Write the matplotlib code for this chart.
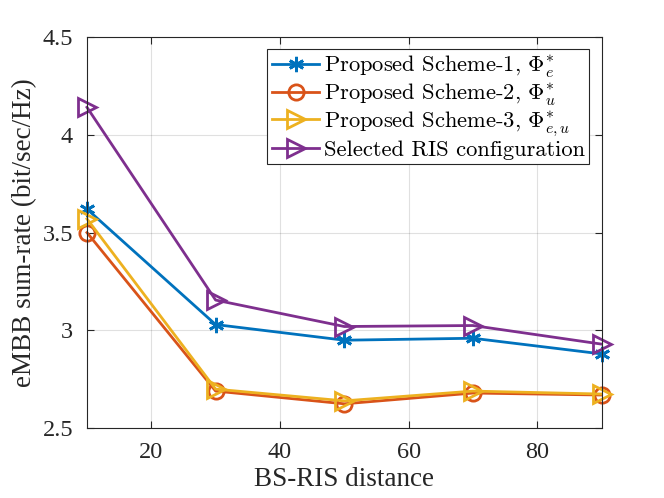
import numpy as np
import matplotlib
matplotlib.use('Agg')
import matplotlib.pyplot as plt

plt.rcParams['font.family'] = ['Liberation Serif', 'DejaVu Serif']
plt.rcParams['mathtext.fontset'] = 'cm'

distance = [10, 30, 50, 70, 90]
scheme1 = [3.62, 3.03, 2.95, 2.96, 2.88]
scheme2 = [3.50, 2.69, 2.625, 2.68, 2.67]
scheme3 = [3.57, 2.70, 2.64, 2.69, 2.675]
selected = [4.14, 3.155, 3.02, 3.025, 2.93]

labels = [r'Proposed Scheme-1, $\Phi_e^{*}$',
          r'Proposed Scheme-2, $\Phi_u^{*}$',
          r'Proposed Scheme-3, $\Phi_{e,u}^{*}$',
          'Selected RIS configuration']

blue = '#0072BD'
orange = '#D95319'
yellow = '#EDB120'
purple = '#7E2F8E'

fig = plt.figure(figsize=(6.64, 4.98), dpi=100)
ax = fig.add_axes([0.131, 0.14, 0.775, 0.786])

ax.plot(distance, scheme1, color=blue, lw=2, marker=(6, 2, 0), ms=11, mew=2,
        label=labels[0], clip_on=False)
ax.plot(distance, scheme2, color=orange, lw=2, marker='o', ms=11, mew=2, mfc='none',
        label=labels[1], clip_on=False)
ax.plot(distance, scheme3, color=yellow, lw=2, marker='>', ms=13, mew=2, mfc='none',
        label=labels[2], clip_on=False)
ax.plot(distance, selected, color=purple, lw=2, marker='>', ms=13, mew=2, mfc='none',
        label=labels[3], clip_on=False)

ax.set_xlim(10, 90)
ax.set_ylim(2.5, 4.5)
ax.set_xticks([20, 40, 60, 80])
ax.set_yticks([2.5, 3, 3.5, 4, 4.5])
ax.set_yticklabels(['2.5', '3', '3.5', '4', '4.5'])
ax.grid(True, color='#000000', alpha=0.12, lw=0.8)
ax.set_axisbelow(True)
ax.tick_params(direction='in', length=5, width=0.8, colors='#262626', labelsize=17.5,
               top=True, right=True, pad=10)
for s in ax.spines.values():
    s.set_color('#262626')
    s.set_linewidth(0.8)

ax.set_xlabel('BS-RIS distance', fontsize=19.5, color='#262626', labelpad=3)
ax.set_ylabel('eMBB sum-rate (bit/sec/Hz)', fontsize=19.5, color='#262626', labelpad=4)

leg = ax.legend(loc='upper right', prop={'family': 'cmr10', 'size': 16.2},
                handlelength=2.1, handletextpad=0.2,
                borderpad=0.2, labelspacing=0.08, fancybox=False, framealpha=1,
                edgecolor='#262626', borderaxespad=0.55)
leg.get_frame().set_linewidth(0.8)
leg.set_zorder(5)

fig.savefig('out.png', dpi=100)
